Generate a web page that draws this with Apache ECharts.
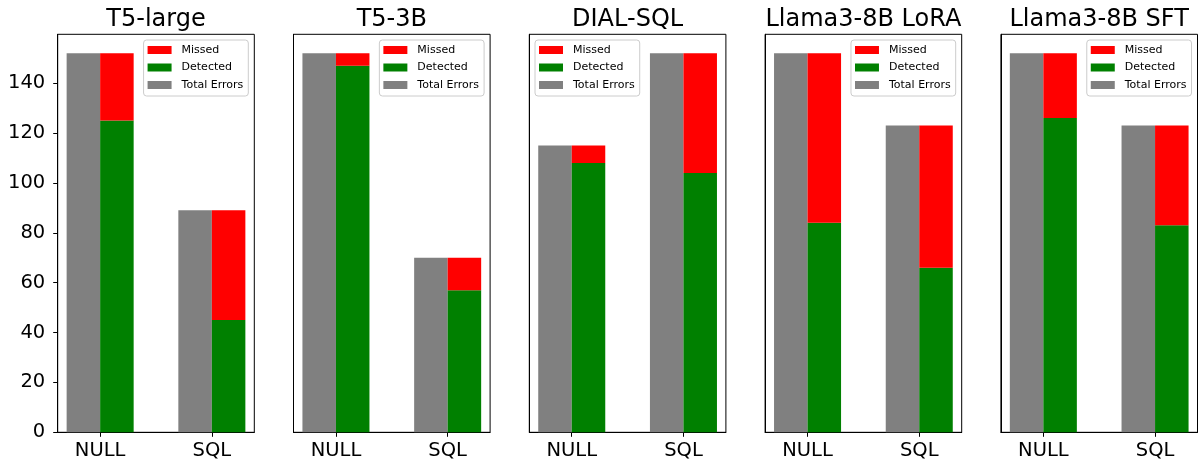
<!DOCTYPE html>
<html><head><meta charset="utf-8">
<script src="https://cdn.jsdelivr.net/npm/echarts@6/dist/echarts.min.js"></script>
<style>html,body{margin:0;padding:0;background:#fff}#c{width:1198px;height:466px}</style>
</head><body><div id="c"></div>
<script>
// ---- data ----
const models = ['T5-large', 'T5-3B', 'DIAL-SQL', 'Llama3-8B LoRA', 'Llama3-8B SFT'];
const categories = ['NULL', 'SQL'];
const nullTotal = [152, 152, 115, 152, 152];
const nullDetected = [125, 147, 108, 84, 126];
const sqlTotal = [89, 70, 152, 123, 123];
const sqlDetected = [45, 57, 104, 66, 83];
const yTicks = [0, 20, 40, 60, 80, 100, 120, 140];
const legendNames = ['Missed', 'Detected', 'Total Errors'];
const legendOnLeft = [false, false, true, false, false];

// ---- layout / style ----
const FONT = 'DejaVu Sans';
const W = 1198;
const gridLeft0 = 57.7, gridStep = 235.8, gridW = 196.6, gridTop = 34.3, gridH = 398;
const X_MIN = -0.38, X_MAX = 1.38, Y_MAX = 159.6, OFF = 0.15, BW = 0.3;
const COLORS = { 'Missed': '#ff0000', 'Detected': '#008000', 'Total Errors': '#808080' };

function renderBar(params, api) {
  const x = api.value(0), y0 = api.value(1), y1 = api.value(2);
  const p0 = api.coord([x - BW / 2, y0]);
  const p1 = api.coord([x + BW / 2, y1]);
  return {
    type: 'rect',
    shape: { x: p0[0], y: p1[1], width: p1[0] - p0[0], height: p0[1] - p1[1] },
    style: { fill: api.visual('color') }
  };
}

const grid = [], xAxis = [], yAxis = [], series = [], title = [], legend = [];
models.forEach((m, i) => {
  const left = gridLeft0 + i * gridStep;
  grid.push({ left: left, top: gridTop, width: gridW, height: gridH, show: true,
    borderColor: '#000', borderWidth: 1, backgroundColor: 'transparent', containLabel: false });
  title.push({ text: m, left: left + gridW / 2, textAlign: 'center', top: 8, padding: 0,
    textStyle: { fontFamily: FONT, fontSize: 24, fontWeight: 'normal', color: '#000' } });
  xAxis.push({ type: 'value', gridIndex: i, min: X_MIN, max: X_MAX,
    axisLine: { show: true, onZero: false, lineStyle: { color: '#000', width: 1 } },
    axisTick: { show: true, customValues: [0, 1], length: 4.5, lineStyle: { color: '#000', width: 1 } },
    axisLabel: { show: true, customValues: [0, 1], formatter: v => categories[Math.round(v)],
      fontFamily: FONT, fontSize: 19.5, color: '#000', margin: 8.5 },
    splitLine: { show: false } });
  yAxis.push({ type: 'value', gridIndex: i, min: 0, max: Y_MAX,
    axisLine: { show: true, onZero: false, lineStyle: { color: '#000', width: 1 } },
    axisTick: { show: i === 0, customValues: yTicks, length: 4.5, lineStyle: { color: '#000', width: 1 } },
    axisLabel: { show: i === 0, customValues: yTicks, fontFamily: FONT, fontSize: 19.5, color: '#000', margin: 12.5 },
    splitLine: { show: false } });
  series.push({ name: 'Total Errors', type: 'custom', xAxisIndex: i, yAxisIndex: i,
    itemStyle: { color: COLORS['Total Errors'] }, renderItem: renderBar, encode: { x: 0, y: [1, 2] },
    data: [[0 - OFF, 0, nullTotal[i]], [1 - OFF, 0, sqlTotal[i]]] });
  series.push({ name: 'Detected', type: 'custom', xAxisIndex: i, yAxisIndex: i,
    itemStyle: { color: COLORS['Detected'] }, renderItem: renderBar, encode: { x: 0, y: [1, 2] },
    data: [[0 + OFF, 0, nullDetected[i]], [1 + OFF, 0, sqlDetected[i]]] });
  series.push({ name: 'Missed', type: 'custom', xAxisIndex: i, yAxisIndex: i,
    itemStyle: { color: COLORS['Missed'] }, renderItem: renderBar, encode: { x: 0, y: [1, 2] },
    data: [[0 + OFF, nullDetected[i], nullTotal[i]], [1 + OFF, sqlDetected[i], sqlTotal[i]]] });
  const lg = { orient: 'vertical', data: legendNames, top: 40, icon: 'rect',
    itemWidth: 24, itemHeight: 8, itemGap: 6.5, padding: [4.5, 5, 5.5, 4],
    borderColor: '#cccccc', borderWidth: 1, borderRadius: 3, backgroundColor: 'rgba(255,255,255,0.8)',
    selectedMode: false,
    textStyle: { fontFamily: FONT, fontSize: 11, color: '#000', lineHeight: 11, padding: [0, 0, 0, 5] } };
  if (legendOnLeft[i]) lg.left = left + 5.7; else lg.right = W - (left + gridW - 6);
  legend.push(lg);
});

const chart = echarts.init(document.getElementById('c'), null, { renderer: 'canvas' });
chart.setOption({ animation: false, backgroundColor: '#fff', title, legend, grid, xAxis, yAxis, series });
</script>
</body></html>
